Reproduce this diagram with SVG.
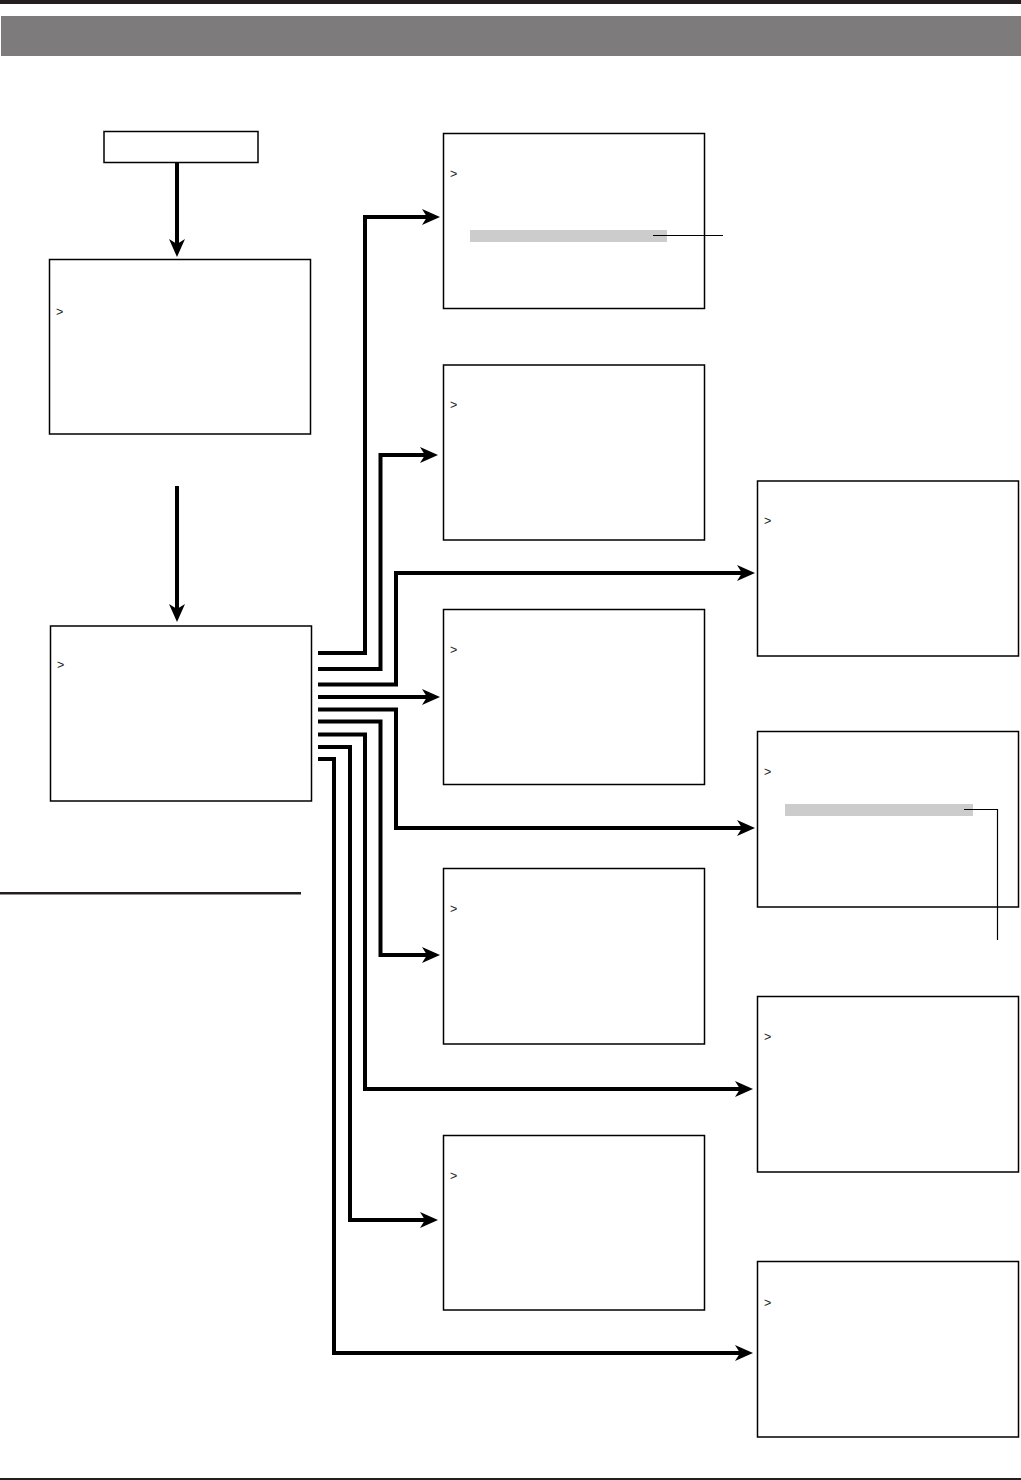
<svg xmlns="http://www.w3.org/2000/svg" width="1021" height="1480" viewBox="0 0 1021 1480">
<style>
.box{fill:#fff;stroke:#000;stroke-width:1.5}
.cur{font-family:"Liberation Sans",Arial,sans-serif;font-size:12.5px;fill:#231f20}
.con{fill:none;stroke:#000;stroke-width:4;stroke-linejoin:miter;stroke-linecap:butt}
.lead{fill:none;stroke:#000;stroke-width:1.2}
.bar{fill:#cccccc}
</style>
<defs>
<marker id="ah" markerUnits="userSpaceOnUse" markerWidth="20" markerHeight="18" viewBox="0 -9 20 18" refX="5" refY="0" orient="auto">
<path d="M0,-8 L18,0 L0,8 L5,0 Z" fill="#000"/>
</marker>
</defs>
<rect x="0" y="0" width="1021" height="4" fill="#231f20"/>
<rect x="1" y="16" width="1020" height="40" fill="#7d7b7c"/>
<rect x="0" y="1478" width="1021" height="2" fill="#231f20"/>
<rect x="0" y="892" width="301" height="2.5" fill="#231f20"/>

<g id="start"><rect class="box" x="104" y="131.5" width="154" height="31"/></g>
<g id="menu1"><rect class="box" x="49.5" y="259.5" width="261" height="174.5"/><text class="cur" x="56" y="316">&gt;</text></g>
<g id="menu2"><rect class="box" x="50.5" y="626" width="261" height="175"/><text class="cur" x="57" y="669">&gt;</text></g>

<g id="m1"><rect class="box" x="443.5" y="133.5" width="261" height="175"/><text class="cur" x="450" y="178">&gt;</text><rect class="bar" x="470" y="230" width="197" height="12"/></g>
<g id="m2"><rect class="box" x="443.5" y="365" width="261" height="175"/><text class="cur" x="450" y="409">&gt;</text></g>
<g id="m3"><rect class="box" x="443.5" y="609.5" width="261" height="175"/><text class="cur" x="450" y="654">&gt;</text></g>
<g id="m4"><rect class="box" x="443.5" y="868.5" width="261" height="175.5"/><text class="cur" x="450" y="913">&gt;</text></g>
<g id="m5"><rect class="box" x="443.5" y="1135.5" width="261" height="174.5"/><text class="cur" x="450" y="1180">&gt;</text></g>

<g id="r1"><rect class="box" x="757.5" y="481" width="261" height="175"/><text class="cur" x="764" y="525">&gt;</text></g>
<g id="r2"><rect class="box" x="757.5" y="731.5" width="261" height="175.5"/><text class="cur" x="764" y="776">&gt;</text><rect class="bar" x="785" y="804" width="188" height="12"/></g>
<g id="r3"><rect class="box" x="757.5" y="996.5" width="261" height="175.5"/><text class="cur" x="764" y="1041">&gt;</text></g>
<g id="r4"><rect class="box" x="757.5" y="1261.5" width="261" height="175.5"/><text class="cur" x="764" y="1307">&gt;</text></g>

<g id="leaders">
<path class="lead" d="M653,235.5 H723"/>
<path class="lead" d="M964,809.5 H997.5 V940"/>
</g>

<g id="connectors">
<path class="con" d="M177,163 V244" marker-end="url(#ah)"/>
<path class="con" d="M177,486 V609" marker-end="url(#ah)"/>
<path class="con" d="M318,653 H365 V217 H427" marker-end="url(#ah)"/>
<path class="con" d="M318,669 H380.5 V455 H425" marker-end="url(#ah)"/>
<path class="con" d="M318,684.5 H396 V573 H742" marker-end="url(#ah)"/>
<path class="con" d="M318,697 H427" marker-end="url(#ah)"/>
<path class="con" d="M318,709.5 H396 V828 H742" marker-end="url(#ah)"/>
<path class="con" d="M318,721.5 H380.5 V955 H427" marker-end="url(#ah)"/>
<path class="con" d="M318,734.5 H365 V1089 H740" marker-end="url(#ah)"/>
<path class="con" d="M318,747 H350 V1220 H425" marker-end="url(#ah)"/>
<path class="con" d="M318,759 H334 V1353 H740" marker-end="url(#ah)"/>
</g>
</svg>
